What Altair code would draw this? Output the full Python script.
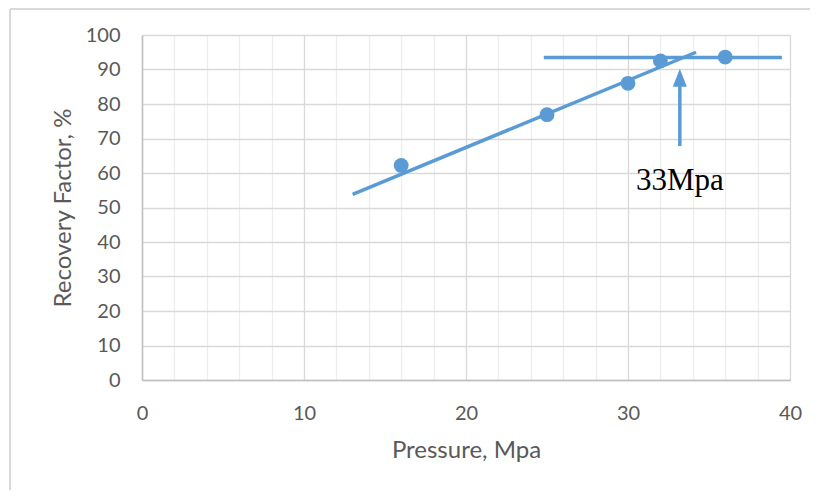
import altair as alt
import pandas as pd

# Data
pressure = [16, 25, 30, 32, 36]
recovery = [62.2, 76.9, 86.0, 92.5, 93.6]

trend_x = [13.0, 34.2]
trend_y = [53.8, 95.0]

plateau_x = [24.8, 39.5]
plateau_y = [93.5, 93.5]

arrow_x = [33.2]
arrow_y_start = [67.8]
arrow_y_end = [85.5]
arrow_head_y = [87.6]

label_text = ["33Mpa"]
label_x = [33.2]
label_y = [55.2]

x_ticks = list(range(0, 41, 2))
y_ticks = list(range(0, 101, 10))

BLUE = "#5B9BD5"
FONT = "Lato"

W, H = 648, 345

xs = alt.Scale(domain=[0, 40], nice=False, zero=False)
ys = alt.Scale(domain=[0, 100], nice=False)

pts_df = pd.DataFrame({"p": pressure, "r": recovery})
trend_df = pd.DataFrame({"p": trend_x, "r": trend_y})
plat_df = pd.DataFrame({"p": plateau_x, "r": plateau_y})
arrow_df = pd.DataFrame({"p": arrow_x, "y1": arrow_y_start, "y2": arrow_y_end, "yh": arrow_head_y})
lab_df = pd.DataFrame({"p": label_x, "r": label_y, "t": label_text})

x_axis = alt.Axis(
    title="Pressure, Mpa",
    values=x_ticks,
    labelExpr="datum.value % 10 === 0 ? datum.label : ''",
    labelOverlap=False,
    labelFlush=False,
    grid=True,
    gridColor={"condition": {"test": "datum.value % 10 === 0", "value": "#D9D9D9"}, "value": "#EDEDED"},
    gridWidth=1.3,
    ticks=False,
    domainColor="#BFBFBF",
    domainWidth=1.5,
    labelFont=FONT,
    labelFontSize=20,
    labelColor="#595959",
    labelPadding=23,
    titleFont=FONT,
    titleFontSize=24,
    titleFontWeight="normal",
    titleColor="#595959",
    titlePadding=15,
)
y_axis = alt.Axis(
    title="Recovery Factor, %",
    values=y_ticks,
    labelOverlap=False,
    labelFlush=False,
    grid=True,
    gridColor="#D9D9D9",
    gridWidth=1.3,
    ticks=False,
    domainColor="#BFBFBF",
    domainWidth=1.5,
    labelFont=FONT,
    labelFontSize=20,
    labelColor="#595959",
    labelPadding=22,
    titleFont=FONT,
    titleFontSize=24,
    titleFontWeight="normal",
    titleColor="#595959",
    titlePadding=10,
)


def X(f):
    return alt.X(f, scale=xs, axis=x_axis)


def Y(f):
    return alt.Y(f, scale=ys, axis=y_axis)


base_pts = alt.Chart(pts_df).mark_circle(size=220, color=BLUE, opacity=1).encode(
    x=X("p:Q"), y=Y("r:Q")
)
trend = alt.Chart(trend_df).mark_line(color=BLUE, strokeWidth=3.5).encode(
    x=X("p:Q"), y=Y("r:Q")
)
plateau = alt.Chart(plat_df).mark_line(color=BLUE, strokeWidth=3.5).encode(
    x=X("p:Q"), y=Y("r:Q")
)
shaft = alt.Chart(arrow_df).mark_rule(color=BLUE, strokeWidth=3.5).encode(
    x=X("p:Q"), y=Y("y1:Q"), y2="y2:Q"
)
head = alt.Chart(arrow_df).mark_point(
    shape="M -0.78 1 L 0 -1 L 0.78 1 Z", size=324, filled=True, color=BLUE, opacity=1
).encode(x=X("p:Q"), y=Y("yh:Q"))

label = alt.Chart(lab_df).mark_text(
    font="Liberation Serif", fontSize=31, color="#000000", align="center", baseline="alphabetic"
).encode(x=X("p:Q"), y=Y("r:Q"), text="t:N")

border_top = alt.Chart(pts_df.head(1)).mark_rule(color="#D9D9D9", strokeWidth=2).encode(
    x=alt.value(-132), x2=alt.value(700), y=alt.value(-26)
)
border_left = alt.Chart(pts_df.head(1)).mark_rule(color="#D9D9D9", strokeWidth=2).encode(
    x=alt.value(-132), y=alt.value(-26), y2=alt.value(470)
)

chart = alt.layer(
    trend, plateau, base_pts, shaft, head, label, border_top, border_left
).properties(
    width=W,
    height=H,
    autosize=alt.AutoSizeParams(type="none"),
    padding={"left": 134, "top": 27, "right": 20, "bottom": 110},
    background="white",
).configure_view(stroke=None)

chart.save("out.html", embed_options={"renderer": "svg", "actions": False})
